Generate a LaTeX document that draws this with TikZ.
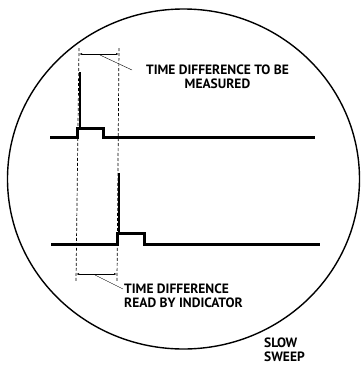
\documentclass[tikz,border=0pt]{standalone}
\usepackage{fontspec}
\setmainfont{PT Sans}
\usetikzlibrary{arrows.meta,positioning}

\begin{document}
\begin{tikzpicture}[x=1pt,y=-1pt,
    every node/.style={font=\bfseries\fontsize{13.5}{13.5}\selectfont,inner sep=0pt},
    screen/.style  ={draw,line width=1.4pt},
    trace/.style   ={line width=3pt,line join=miter},
    spike/.style   ={line width=2.2pt},
    guide/.style   ={densely dashed,line width=0.7pt},
    dimline/.style ={{Latex[length=3pt,width=2pt]}-{Latex[length=3pt,width=2pt]},
                     line width=0.8pt},
    leader/.style  ={line width=0.4pt},
  ]
  \useasboundingbox (0,0) rectangle (360,365);

  % --- screen face ---
  \draw[screen] (183.5,179) ellipse [x radius=176pt, y radius=170pt];

  % --- guide lines ---
  \coordinate (gLt) at (79,48);
  \coordinate (gLb) at (76,281);
  \coordinate (gRt) at (119,48);
  \coordinate (gRb) at (117,281);
  \draw[guide] (gLt) -- (gLb);
  \draw[guide] (gRt) -- (gRb);

  % --- upper trace ---
  \draw[trace] (50,137) -- (77,137) -- (77,128) -- (103,128) -- (103,137) -- (315,137);
  \draw[spike] (80,128) -- (80,72);

  % --- lower trace ---
  \draw[trace] (51,244) -- (117,244) -- (117,233) -- (144,233) -- (144,244) -- (320,244);
  \draw[spike] (119,233) -- (119,173);

  % --- dimensions ---
  \coordinate (dAl) at (79,54);
  \coordinate (dAr) at (119,54);
  \coordinate (dBl) at (76,274);
  \coordinate (dBr) at (117,274);
  \draw[dimline] (dAl) -- (dAr);
  \draw[dimline] (dBl) -- (dBr);

  % --- labels ---
  \node[anchor=north,align=center] (measured) at (217.5,65)
       {TIME DIFFERENCE TO BE\\MEASURED};
  \node[anchor=north west,align=left] (indicator) at (124,284)
       {TIME DIFFERENCE\\READ BY INDICATOR};
  \node[anchor=north west,align=left] (sweep) at (264,338)
       {SLOW\\SWEEP};

  \coordinate (lAs) at (100,55);
  \coordinate (lAe) at (132,70);
  \coordinate (lBs) at (95,275);
  \coordinate (lBe) at (123,289);
  \draw[leader] (lAs) -- (lAe);
  \draw[leader] (lBs) -- (lBe);
\end{tikzpicture}
\end{document}
